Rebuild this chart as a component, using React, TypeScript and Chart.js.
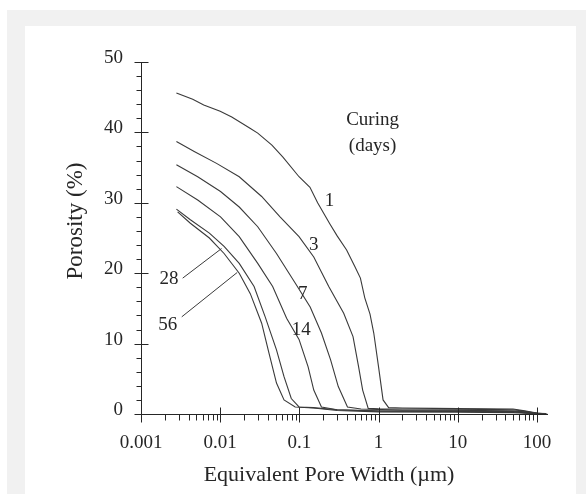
import { useEffect, useRef } from "react";
import { Chart, registerables } from "chart.js";

Chart.register(...registerables);

// ---- Data ----
const curingDays = ["1", "3", "7", "14", "28", "56"];

const poreWidth1 = [0.0028, 0.0045, 0.0062, 0.01, 0.014, 0.0238, 0.0298, 0.045, 0.062, 0.099, 0.136, 0.17, 0.243, 0.3, 0.395, 0.5, 0.59, 0.67, 0.78, 0.87, 1.0, 1.14, 1.34, 2, 5, 20, 50, 70, 100, 135];
const porosity1 = [45.6, 44.7, 43.9, 43.0, 42.2, 40.6, 39.9, 38.2, 36.5, 33.7, 32.2, 30.0, 27.0, 25.3, 23.3, 21.0, 19.3, 16.5, 14.2, 11.5, 6.7, 2.0, 0.9, 0.85, 0.8, 0.75, 0.7, 0.45, 0.15, 0.0];

const poreWidth3 = [0.0028, 0.0047, 0.009, 0.0174, 0.0334, 0.057, 0.099, 0.152, 0.235, 0.363, 0.476, 0.56, 0.63, 0.74, 1.0, 3, 20, 50, 70, 100, 130];
const porosity3 = [38.7, 37.3, 35.6, 33.7, 30.9, 28.0, 25.2, 22.3, 18.1, 14.3, 11.0, 6.7, 3.4, 0.8, 0.75, 0.7, 0.65, 0.6, 0.4, 0.1, 0.05];

const poreWidth7 = [0.0028, 0.0052, 0.0101, 0.0174, 0.0298, 0.0514, 0.0885, 0.137, 0.19, 0.248, 0.31, 0.405, 0.6, 2, 20, 50, 70, 100, 130];
const porosity7 = [35.4, 33.7, 31.6, 29.4, 26.6, 22.8, 18.6, 15.2, 11.5, 7.7, 3.9, 1.0, 0.7, 0.55, 0.5, 0.45, 0.3, 0.1, 0.0];

const poreWidth14 = [0.0028, 0.0052, 0.0101, 0.0174, 0.0298, 0.046, 0.069, 0.099, 0.129, 0.152, 0.19, 0.3, 1, 10, 50, 70, 100, 130];
const porosity14 = [32.3, 30.4, 28.0, 25.2, 21.4, 18.1, 13.6, 10.6, 6.7, 3.4, 1.0, 0.6, 0.45, 0.4, 0.35, 0.2, 0.1, 0.05];

const poreWidth28 = [0.0028, 0.0042, 0.0073, 0.0112, 0.0174, 0.0268, 0.037, 0.0514, 0.064, 0.079, 0.099, 0.15, 0.3, 1, 10, 50, 70, 100, 130];
const porosity28 = [29.1, 27.6, 25.7, 23.8, 21.4, 18.1, 13.8, 9.1, 5.3, 2.2, 1.0, 0.9, 0.6, 0.4, 0.35, 0.3, 0.2, 0.05, 0.0];

const poreWidth56 = [0.0029, 0.0042, 0.0073, 0.0112, 0.0174, 0.024, 0.0334, 0.0414, 0.0514, 0.064, 0.0885, 0.15, 0.3, 1, 10, 50, 70, 100, 130];
const porosity56 = [28.7, 27.1, 25.0, 22.8, 20.0, 17.1, 12.9, 8.6, 4.4, 2.0, 1.0, 0.85, 0.5, 0.3, 0.25, 0.2, 0.1, 0.05, 0.0];

const yTickValues = [0, 10, 20, 30, 40, 50];
const yTickLabels = ["0", "10", "20", "30", "40", "50"];
const xTickValues = [0.001, 0.01, 0.1, 1, 10, 100];
const xTickLabels = ["0.001", "0.01", "0.1", "1", "10", "100"];

// curve labels, in data coordinates
const labelPoreWidth = [0.24, 0.152, 0.11, 0.106, 0.00226, 0.00217];
const labelPorosity = [30.2, 24.0, 17.1, 11.9, 19.2, 12.6];

// leader lines for 28 and 56
const leader28X = [0.00336, 0.0104];
const leader28Y = [19.3, 23.5];
const leader56X = [0.00327, 0.0164];
const leader56Y = [13.8, 20.1];

const curingTitle = ["Curing", "(days)"];
const curingTitleX = 0.84;
const curingTitleY = [41.8, 38.0];

const xTitle = "Equivalent Pore Width (\u00b5m)";
const yTitle = "Porosity (%)";

const seriesX = [poreWidth1, poreWidth3, poreWidth7, poreWidth14, poreWidth28, poreWidth56];
const seriesY = [porosity1, porosity3, porosity7, porosity14, porosity28, porosity56];

const INK = "#262626";
const LINE = "#3a3a3a";
const SERIF = '"Liberation Serif", "DejaVu Serif", serif';

const decorPlugin = {
  id: "decor",
  afterDatasetsDraw(chart: any) {
    const ctx: CanvasRenderingContext2D = chart.ctx;
    const xs = chart.scales.x;
    const ys = chart.scales.y;
    const area = chart.chartArea;
    const ax = Math.round(area.left) + 0.5;
    const ay = Math.round(area.bottom) + 0.5;
    ctx.save();
    ctx.strokeStyle = INK;
    ctx.lineWidth = 1;
    // axis lines
    ctx.beginPath();
    ctx.moveTo(ax, Math.round(area.top));
    ctx.lineTo(ax, ay);
    ctx.lineTo(Math.round(area.right), ay);
    ctx.stroke();

    // y ticks
    ctx.beginPath();
    for (const v of yTickValues) {
      const py = Math.round(ys.getPixelForValue(v)) + 0.5;
      ctx.moveTo(ax - 7, py);
      ctx.lineTo(ax + 7, py);
    }
    for (let v = 2; v < 50; v += 2) {
      if (v % 10 === 0) continue;
      const py = Math.round(ys.getPixelForValue(v)) + 0.5;
      ctx.moveTo(ax - 5, py);
      ctx.lineTo(ax, py);
    }
    // x ticks
    for (const v of xTickValues) {
      const px = Math.round(xs.getPixelForValue(v)) + 0.5;
      ctx.moveTo(px, ay - 7);
      ctx.lineTo(px, ay + 8);
    }
    for (const d of xTickValues) {
      for (let m = 2; m <= 9; m++) {
        const v = d * m;
        if (v > xs.max) continue;
        const px = Math.round(xs.getPixelForValue(v)) + 0.5;
        ctx.moveTo(px, ay);
        ctx.lineTo(px, ay + 6);
      }
    }
    ctx.stroke();

    // leader lines
    ctx.strokeStyle = LINE;
    ctx.beginPath();
    ctx.moveTo(xs.getPixelForValue(leader28X[0]), ys.getPixelForValue(leader28Y[0]));
    ctx.lineTo(xs.getPixelForValue(leader28X[1]), ys.getPixelForValue(leader28Y[1]));
    ctx.moveTo(xs.getPixelForValue(leader56X[0]), ys.getPixelForValue(leader56Y[0]));
    ctx.lineTo(xs.getPixelForValue(leader56X[1]), ys.getPixelForValue(leader56Y[1]));
    ctx.stroke();

    // tick labels
    ctx.fillStyle = INK;
    ctx.font = `19px ${SERIF}`;
    ctx.textBaseline = "alphabetic";
    ctx.textAlign = "right";
    yTickValues.forEach((v, i) => {
      const py = ys.getPixelForValue(v);
      ctx.fillText(yTickLabels[i], area.left - 18, py + 1);
    });
    ctx.textAlign = "center";
    xTickValues.forEach((v, i) => {
      const px = xs.getPixelForValue(v);
      ctx.fillText(xTickLabels[i], px, area.bottom + 33.5);
    });

    // curve labels
    ctx.textBaseline = "middle";
    curingDays.forEach((lab, i) => {
      ctx.fillText(lab, xs.getPixelForValue(labelPoreWidth[i]), ys.getPixelForValue(labelPorosity[i]));
    });
    curingTitle.forEach((t, i) => {
      ctx.fillText(t, xs.getPixelForValue(curingTitleX), ys.getPixelForValue(curingTitleY[i]));
    });

    // axis titles
    ctx.font = `22px ${SERIF}`;
    ctx.textBaseline = "alphabetic";
    ctx.textAlign = "center";
    ctx.fillText(xTitle, area.left + 188, area.bottom + 67);
    ctx.font = `23px ${SERIF}`;
    ctx.translate(area.left - 59.5, area.top + 159);
    ctx.rotate(-Math.PI / 2);
    ctx.fillText(yTitle, 0, 0);
    ctx.restore();
  },
};

export default function App() {
  const canvasRef = useRef<HTMLCanvasElement | null>(null);

  useEffect(() => {
    const canvas = canvasRef.current;
    if (!canvas) return;
    const chart = new Chart(canvas, {
      type: "scatter",
      data: {
        datasets: seriesX.map((xsArr, i) => ({
          label: curingDays[i],
          data: xsArr.map((x, j) => ({ x, y: seriesY[i][j] })),
          showLine: true,
          borderColor: LINE,
          borderWidth: 1.1,
          pointRadius: 0,
          pointHoverRadius: 0,
          tension: 0,
          fill: false,
        })),
      },
      options: {
        responsive: false,
        animation: false,
        devicePixelRatio: 1,
        events: [],
        layout: { padding: { left: 141, top: 62, right: 38, bottom: 80 } },
        plugins: {
          legend: { display: false },
          tooltip: { enabled: false },
          title: { display: false },
        },
        scales: {
          x: { type: "logarithmic", min: 0.001, max: 138, display: false },
          y: { type: "linear", min: 0, max: 50, display: false },
        },
      },
      plugins: [decorPlugin],
    });
    return () => chart.destroy();
  }, []);

  return (
    <div style={{ position: "fixed", left: 0, top: 0, width: 586, height: 494, background: "#ffffff", overflow: "hidden" }}>
      <div style={{ position: "absolute", left: 7, top: 10, width: 600, height: 500, background: "#f1f1f1" }} />
      <div style={{ position: "absolute", left: 25, top: 26, width: 551, height: 480, background: "#ffffff" }} />
      <canvas
        ref={canvasRef}
        width={586}
        height={494}
        style={{ position: "absolute", left: 0, top: 0, width: 586, height: 494, display: "block" }}
      />
    </div>
  );
}
